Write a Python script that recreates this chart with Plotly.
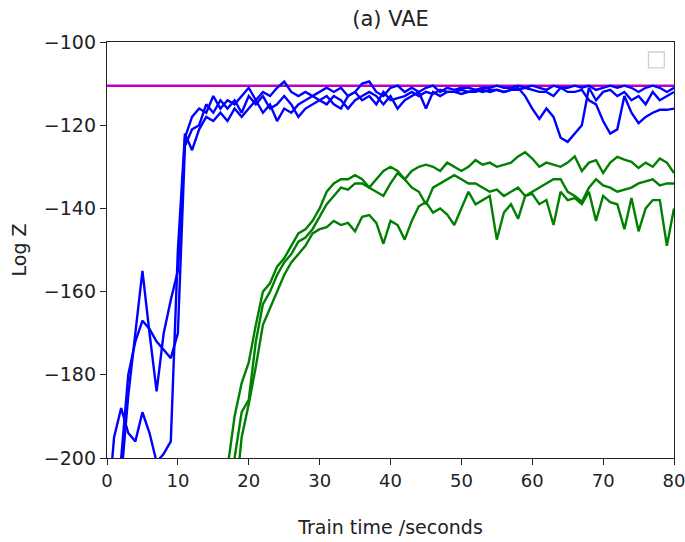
import plotly.graph_objects as go

# Reference log-partition estimate (horizontal line)
reference_logz = -110.5

# VAE runs: train time (s) and log Z estimate, one list per run
blue_time = list(range(0, 81))
blue_run_a = [-240, -215, -205, -185, -170, -155, -170, -184, -170, -162,
              -155, -123, -118, -116, -117, -113, -116, -114, -115, -113,
              -111, -114, -112, -113, -111, -109.5, -112, -113, -112, -113,
              -112, -111, -112, -111, -113, -112, -110, -109.5, -112, -113,
              -111, -110.5, -112, -111, -112, -111, -110.5, -112, -111, -111.5,
              -111, -111, -111.5, -111, -111, -110.5, -111, -111, -110.5, -111,
              -110.5, -111, -111.5, -110.5, -111, -111, -110.5, -111, -110.5, -111.5,
              -111, -110.5, -111, -110.5, -111, -112, -111, -110.5, -111, -112,
              -111]
blue_run_b = [-215, -195, -188, -194, -196, -189, -194, -201, -199, -196,
              -150, -122, -126, -121, -118, -119, -117, -119, -116, -118,
              -116, -114, -117, -115, -119, -116, -117, -115, -114, -113,
              -114, -115, -113, -114, -116, -114, -113, -112, -113, -115,
              -113, -116, -114, -113, -112, -116, -112, -113, -112, -112,
              -111.5, -112, -112, -111.5, -112, -111.5, -112, -111.5, -111, -113,
              -116, -118.5, -116, -118, -123, -124, -122, -120, -111, -114,
              -112, -111.5, -113, -112, -114, -113, -115, -112, -114, -113,
              -112]
blue_run_c = [-230, -210, -200, -180, -172, -167, -169, -172, -174, -176,
              -170, -125, -121, -120, -115, -117, -114, -116, -114, -117,
              -113, -115, -113, -116, -115, -113, -115, -118, -116, -115,
              -114, -113, -115, -116, -113, -112, -114, -113, -115, -112,
              -114, -113.5, -113, -112, -113, -112, -112.5, -111.5, -112, -112,
              -112.5, -112, -111.5, -112, -111.5, -111.5, -112, -111.5, -111.5, -111,
              -111.5, -112, -112, -113, -111, -112, -112, -111.5, -114, -115,
              -119, -122, -121, -113, -117, -119.5, -118, -117, -116.3, -116.3,
              -116]

# Baseline runs
green_time_a = list(range(16, 81))
green_run_a = [-215, -203, -190, -182, -177, -168, -160, -158, -154, -152,
               -149, -146, -145, -143, -140, -136, -134, -133, -133, -132,
               -133, -135, -133, -131, -130, -131, -133, -131, -130, -129.5,
               -130, -131, -129, -130, -131, -130, -128.4, -129.5, -129, -130,
               -129.5, -129, -127.5, -126.5, -128, -130, -129, -129.5, -130, -129,
               -127.5, -131, -129, -128.4, -131.5, -129, -127.6, -128.3, -128.8, -130.3,
               -129, -130, -128, -129, -131.5]
green_time_b = list(range(17, 81))
green_run_b = [-215, -200, -189, -186, -172, -163, -160, -156, -153, -151,
               -148, -147, -145, -142, -139, -137, -135, -135.5, -134, -134,
               -135, -136, -137, -134, -131.5, -133, -135, -136, -139, -135,
               -134, -133, -132, -133, -134, -134, -135, -136, -135.5, -137,
               -136, -135, -137, -136, -135, -134, -133, -133, -136, -137,
               -138.4, -135, -133, -134.5, -135, -136, -135.5, -135, -134, -133.5,
               -133, -134.5, -134, -134]
green_time_c = list(range(18, 81))
green_run_c = [-212, -195, -187, -178, -168, -164, -160, -156, -153, -151,
               -149, -146, -145, -144.5, -143, -144, -143.5, -145.5, -142, -141.6,
               -143.5, -148.5, -143, -144, -147.5, -143, -139.5, -138.5, -141, -140,
               -141.5, -144, -140, -136, -139, -138, -137, -147.5, -141, -139,
               -142.5, -137, -136.5, -139, -138, -144, -136, -138, -137.5, -139,
               -136, -143, -137, -138.5, -139, -145, -137.5, -145.5, -140, -138,
               -138, -149, -140]

y_ticks = [-200, -180, -160, -140, -120, -100]
y_tick_text = ["\u2212200", "\u2212180", "\u2212160", "\u2212140", "\u2212120", "\u2212100"]
x_ticks = [0, 10, 20, 30, 40, 50, 60, 70, 80]

BLUE = "#0000ff"
GREEN = "#008000"
MAGENTA = "#c000c0"
LW = 2.4
INK = "#222222"
FONT = "DejaVu Sans"

fig = go.Figure()

fig.add_trace(go.Scatter(x=[x_ticks[0], x_ticks[-1]], y=[reference_logz, reference_logz],
                         mode="lines", line=dict(color=MAGENTA, width=2.6),
                         showlegend=False, hoverinfo="skip"))

for run in (blue_run_a, blue_run_b, blue_run_c):
    fig.add_trace(go.Scatter(x=blue_time, y=run, mode="lines",
                             line=dict(color=BLUE, width=LW), showlegend=False))

for t, run in ((green_time_a, green_run_a), (green_time_b, green_run_b),
               (green_time_c, green_run_c)):
    fig.add_trace(go.Scatter(x=t, y=run, mode="lines",
                             line=dict(color=GREEN, width=LW), showlegend=False))

# Empty legend frame in the upper-right corner
fig.add_shape(type="rect", xref="x domain", yref="y domain",
              x0=0.955, x1=0.983, y0=0.938, y1=0.976,
              line=dict(color="#d0d0d0", width=1.3), fillcolor="white")

axis_common = dict(showline=True, mirror=True, linecolor=INK, linewidth=1.3,
                   ticks="outside", ticklen=6, tickwidth=1.3, tickcolor=INK,
                   showgrid=False, zeroline=False, automargin=False,
                   ticklabeloverflow="allow")

fig.update_layout(
    width=685, height=542,
    margin=dict(l=107, r=11, t=42, b=84, autoexpand=False),
    paper_bgcolor="white", plot_bgcolor="white",
    title=dict(text="(a) VAE", x=0.5, xref="paper", xanchor="center",
               y=1 - 19 / 542, yref="container", yanchor="middle",
               font=dict(family=FONT, size=21, color=INK)),
    xaxis=dict(range=[0, 80], tickvals=x_ticks,
               tickfont=dict(family=FONT, size=18, color=INK),
               title=dict(text="Train time /seconds", standoff=30,
                          font=dict(family=FONT, size=19, color=INK)),
               **axis_common),
    yaxis=dict(range=[-200, -100], tickvals=y_ticks, ticktext=y_tick_text,
               tickfont=dict(family=FONT, size=19, color=INK),
               title=dict(text="Log Z", standoff=12,
                          font=dict(family=FONT, size=19, color=INK)),
               **axis_common),
)

fig.write_html("out.html")
